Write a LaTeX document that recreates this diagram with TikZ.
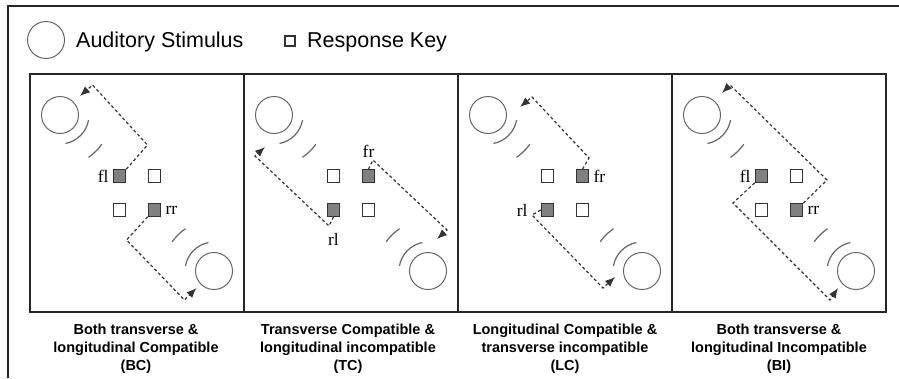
\documentclass[tikz,border=0pt]{standalone}
\usepackage{fontspec}
\setmainfont{Liberation Serif}
\setsansfont{Liberation Sans}
\usetikzlibrary{positioning,arrows.meta}

\tikzset{
  stim/.style={draw=black!60, line width=1pt, circle, minimum size=37pt, inner sep=0pt},
  wave/.style={draw=black!60, line width=1.2pt},
  key/.style={draw=black!80, line width=1.2pt, rectangle, minimum size=12.5pt, inner sep=0pt, fill=white},
  keyon/.style={key, fill=black!50},
  keylab/.style={font=\fontsize{17.5}{17.5}\selectfont, inner sep=1pt},
  route/.style={draw=black!80, line width=1.2pt, dash pattern=on 3pt off 2.5pt, -{Latex[length=10pt,width=8pt]}},
  frame/.style={draw=black!85, line width=1.2pt},
  legtext/.style={font=\sffamily\fontsize{21.5}{22}\selectfont, inner sep=0pt},
  caption/.style={font=\sffamily\bfseries\fontsize{14.5}{18}\selectfont, align=center, inner sep=0pt}
}

% the two sound sources of one panel, #1 = tag, #2 = centre x
\newcommand{\sounds}[2]{%
  \node[stim] (stimA#1) at (#2-77,115) {};
  \node[stim] (stimB#1) at (#2+77,271) {};
  \draw[wave] ([shift={(10:29)}]stimA#1.center) arc[start angle=10, end angle=79, radius=29];
  \draw[wave] ([shift={(35:51)}]stimA#1.center) arc[start angle=35, end angle=56, radius=51];
  \draw[wave] ([shift={(190:29)}]stimB#1.center) arc[start angle=190, end angle=259, radius=29];
  \draw[wave] ([shift={(215:51)}]stimB#1.center) arc[start angle=215, end angle=236, radius=51];
}

\begin{document}
\begin{tikzpicture}[x=1pt, y=-1pt]
  \useasboundingbox (0,0) rectangle (899,378);

  % frames
  \draw[frame] (8,378) -- (8,6) -- (899,6);
  \draw[frame] (30,74) rectangle (886,312);
  \draw[frame] (244,74) -- (244,312);
  \draw[frame] (458,74) -- (458,312);
  \draw[frame] (672,74) -- (672,312);

  % legend
  \node[stim] (legstim) at (46,40) {};
  \node[legtext, anchor=base west] (legstimtxt) at (76,47) {Auditory Stimulus};
  \node[key, minimum size=10pt] (legkey) at (290,41) {};
  \node[legtext, anchor=base west] (legkeytxt) at (307,47) {Response Key};

  % BC
  \sounds{1}{137}
  \node[keyon] (fl1) at (119.5,176) {};
  \node[key] (fr1) at (154.5,176) {};
  \node[key] (rl1) at (119.5,210) {};
  \node[keyon] (rr1) at (154.5,210) {};
  \node[keylab, left=3pt of fl1] (fltxt1) {fl};
  \node[keylab, right=3pt of rr1] (rrtxt1) {rr};
  \coordinate (a1) at (147.5,145);
  \coordinate (b1) at (92.5,85);
  \coordinate (c1) at (80,96);
  \coordinate (d1) at (126.5,240);
  \coordinate (e1) at (184.5,300);
  \coordinate (f1) at (196.5,288);
  \draw[route] (fl1.north east) -- (a1) -- (b1) -- (c1);
  \draw[route] (rr1.south west) -- (d1) -- (e1) -- (f1);

  % TC
  \sounds{2}{351}
  \node[key] (fl2) at (333.5,176) {};
  \node[keyon] (fr2) at (368.5,176) {};
  \node[keyon] (rl2) at (333.5,210) {};
  \node[key] (rr2) at (368.5,210) {};
  \node[keylab, above=10pt of fr2] (frtxt2) {fr};
  \node[keylab, below=15pt of rl2] (rltxt2) {rl};
  \coordinate (a2) at (373,160);
  \coordinate (b2) at (447,230);
  \coordinate (c2) at (437,239);
  \coordinate (d2) at (329,226);
  \coordinate (e2) at (255,156);
  \coordinate (f2) at (265,147);
  \draw[route] (fr2.north) -- (a2) -- (b2) -- (c2);
  \draw[route] (rl2.south) -- (d2) -- (e2) -- (f2);

  % LC
  \sounds{3}{565}
  \node[key] (fl3) at (547.5,176) {};
  \node[keyon] (fr3) at (582.5,176) {};
  \node[keyon] (rl3) at (547.5,210) {};
  \node[key] (rr3) at (582.5,210) {};
  \node[keylab, right=3pt of fr3] (frtxt3) {fr};
  \node[keylab, left=12pt of rl3] (rltxt3) {rl};
  \coordinate (a3) at (589,158);
  \coordinate (b3) at (532,97);
  \coordinate (c3) at (520,107);
  \coordinate (d3) at (532,215);
  \coordinate (e3) at (603,288);
  \coordinate (f3) at (615,277);
  \draw[route] (fr3.north) -- (a3) -- (b3) -- (c3);
  \draw[route] (rl3.west) -- (d3) -- (e3) -- (f3);

  % BI
  \sounds{4}{779}
  \node[keyon] (fl4) at (761.5,176) {};
  \node[key] (fr4) at (796.5,176) {};
  \node[key] (rl4) at (761.5,210) {};
  \node[keyon] (rr4) at (796.5,210) {};
  \node[keylab, left=3pt of fl4] (fltxt4) {fl};
  \node[keylab, right=3pt of rr4] (rrtxt4) {rr};
  \coordinate (a4) at (827,180);
  \coordinate (b4) at (730,85);
  \coordinate (c4) at (722,93);
  \coordinate (d4) at (733,203);
  \coordinate (e4) at (830,300);
  \coordinate (f4) at (838,288);
  \draw[route] (rr4.north east) -- (a4) -- (b4) -- (c4);
  \draw[route] (fl4.south west) -- (d4) -- (e4) -- (f4);

  % captions
  \node[caption, anchor=north] (capBC) at (136,324) {Both transverse \&\\longitudinal Compatible\\(BC)};
  \node[caption, anchor=north] (capTC) at (348,324) {Transverse Compatible \&\\longitudinal incompatible\\(TC)};
  \node[caption, anchor=north] (capLC) at (565,324) {Longitudinal Compatible \&\\transverse incompatible\\(LC)};
  \node[caption, anchor=north] (capBI) at (779,324) {Both transverse \&\\longitudinal Incompatible\\(BI)};
\end{tikzpicture}
\end{document}
